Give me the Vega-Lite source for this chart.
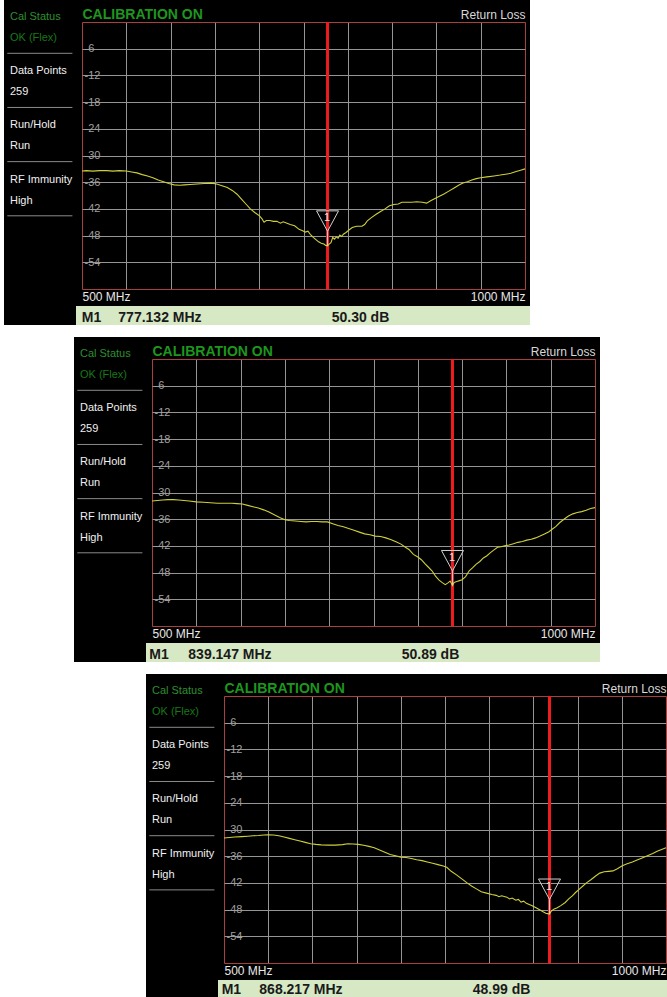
{
  "$schema": "https://vega.github.io/schema/vega-lite/v6.json",
  "background": "white",
  "padding": 0,
  "spacing": 12,
  "config": {"view": {"stroke": null}, "font": "Liberation Sans", "axis": {"labelFont": "Liberation Sans"}},
  "datasets": {
    "sidebar": [
      {"slot": 0, "label": "Cal Status", "value": "OK (Flex)"},
      {"slot": 1, "label": "Data Points", "value": "259"},
      {"slot": 2, "label": "Run/Hold", "value": "Run"},
      {"slot": 3, "label": "RF Immunity", "value": "High"}
    ],
    "marker1": [{"num": "1", "marker": "M1", "freq": 777.132, "db": -50.30, "freqLabel": "777.132 MHz", "valueLabel": "50.30 dB"}],
    "marker2": [{"num": "1", "marker": "M1", "freq": 839.147, "db": -50.89, "freqLabel": "839.147 MHz", "valueLabel": "50.89 dB"}],
    "marker3": [{"num": "1", "marker": "M1", "freq": 868.217, "db": -48.99, "freqLabel": "868.217 MHz", "valueLabel": "48.99 dB"}],
    "trace1": [
      {"freq":500,"db":-33.5},{"freq":505,"db":-33.4},{"freq":512,"db":-33.5},{"freq":520,"db":-33.4},{"freq":528,"db":-33.4},{"freq":535,"db":-33.5},{"freq":542,"db":-33.4},{"freq":550,"db":-33.5},{"freq":556,"db":-33.7},{"freq":562,"db":-33.9},{"freq":568,"db":-34.3},{"freq":574,"db":-34.6},{"freq":580,"db":-35.0},{"freq":586,"db":-35.5},{"freq":592,"db":-35.9},{"freq":598,"db":-36.3},{"freq":604,"db":-36.6},{"freq":610,"db":-36.7},{"freq":616,"db":-36.6},{"freq":622,"db":-36.5},{"freq":630,"db":-36.4},{"freq":638,"db":-36.3},{"freq":646,"db":-36.2},{"freq":652,"db":-36.4},{"freq":658,"db":-36.8},{"freq":664,"db":-37.2},{"freq":670,"db":-37.9},{"freq":675,"db":-38.7},{"freq":680,"db":-39.8},{"freq":685,"db":-40.9},{"freq":690,"db":-42.0},{"freq":695,"db":-42.8},{"freq":700,"db":-43.5},{"freq":703,"db":-44.2},{"freq":705.5,"db":-45.0},{"freq":708,"db":-44.6},{"freq":712,"db":-44.6},{"freq":716,"db":-44.8},{"freq":720,"db":-44.8},{"freq":724,"db":-45.2},{"freq":727,"db":-44.9},{"freq":730,"db":-45.1},{"freq":735,"db":-45.5},{"freq":740,"db":-45.8},{"freq":745,"db":-46.6},{"freq":749,"db":-46.9},{"freq":752,"db":-47.2},{"freq":755,"db":-47.0},{"freq":758,"db":-47.8},{"freq":761,"db":-48.4},{"freq":764,"db":-48.9},{"freq":767,"db":-49.4},{"freq":770,"db":-49.7},{"freq":773,"db":-49.9},{"freq":775,"db":-50.2},{"freq":777.1,"db":-50.3},{"freq":779,"db":-49.9},{"freq":781,"db":-49.6},{"freq":783,"db":-48.4},{"freq":785,"db":-48.8},{"freq":787,"db":-48.3},{"freq":789,"db":-48.6},{"freq":791,"db":-47.9},{"freq":793,"db":-48.2},{"freq":795,"db":-47.7},{"freq":798,"db":-47.3},{"freq":801,"db":-46.8},{"freq":805,"db":-46.2},{"freq":810,"db":-45.9},{"freq":816,"db":-45.9},{"freq":819,"db":-45.5},{"freq":822,"db":-44.7},{"freq":827,"db":-43.9},{"freq":832,"db":-43.2},{"freq":837,"db":-42.6},{"freq":842,"db":-42.0},{"freq":847,"db":-41.3},{"freq":852,"db":-41.0},{"freq":857,"db":-40.9},{"freq":861,"db":-40.5},{"freq":866,"db":-40.5},{"freq":872,"db":-40.5},{"freq":878,"db":-40.4},{"freq":884,"db":-40.5},{"freq":889,"db":-40.7},{"freq":894,"db":-40.1},{"freq":899,"db":-39.6},{"freq":904,"db":-39.1},{"freq":909,"db":-38.6},{"freq":914,"db":-38.0},{"freq":920,"db":-37.3},{"freq":925,"db":-36.7},{"freq":930,"db":-36.2},{"freq":935,"db":-35.9},{"freq":940,"db":-35.5},{"freq":945,"db":-35.2},{"freq":950,"db":-35.0},{"freq":957,"db":-34.8},{"freq":965,"db":-34.6},{"freq":972,"db":-34.4},{"freq":978,"db":-34.2},{"freq":984,"db":-34.0},{"freq":990,"db":-33.6},{"freq":995,"db":-33.3},{"freq":1000,"db":-33.0}
    ],
    "trace2": [
      {"freq":500,"db":-31.9},{"freq":506,"db":-31.8},{"freq":512,"db":-31.7},{"freq":518,"db":-31.6},{"freq":524,"db":-31.6},{"freq":530,"db":-31.7},{"freq":536,"db":-31.8},{"freq":542,"db":-31.9},{"freq":550,"db":-32.1},{"freq":558,"db":-32.2},{"freq":566,"db":-32.3},{"freq":574,"db":-32.4},{"freq":582,"db":-32.4},{"freq":590,"db":-32.4},{"freq":596,"db":-32.5},{"freq":602,"db":-32.6},{"freq":608,"db":-32.9},{"freq":614,"db":-33.2},{"freq":620,"db":-33.5},{"freq":626,"db":-33.9},{"freq":632,"db":-34.4},{"freq":638,"db":-35.0},{"freq":644,"db":-35.6},{"freq":650,"db":-36.1},{"freq":655,"db":-36.3},{"freq":662,"db":-36.4},{"freq":668,"db":-36.5},{"freq":674,"db":-36.6},{"freq":680,"db":-36.5},{"freq":686,"db":-36.5},{"freq":692,"db":-36.6},{"freq":698,"db":-36.6},{"freq":704,"db":-37.0},{"freq":710,"db":-37.4},{"freq":716,"db":-37.7},{"freq":722,"db":-38.1},{"freq":728,"db":-38.5},{"freq":734,"db":-38.9},{"freq":740,"db":-39.3},{"freq":746,"db":-39.5},{"freq":752,"db":-39.8},{"freq":758,"db":-39.9},{"freq":764,"db":-40.2},{"freq":770,"db":-40.6},{"freq":776,"db":-41.1},{"freq":781,"db":-41.6},{"freq":786,"db":-42.3},{"freq":790,"db":-42.8},{"freq":795,"db":-43.9},{"freq":800,"db":-44.5},{"freq":804,"db":-45.1},{"freq":808,"db":-46.0},{"freq":812,"db":-46.8},{"freq":816,"db":-47.6},{"freq":820,"db":-48.8},{"freq":824,"db":-49.7},{"freq":828,"db":-50.3},{"freq":831,"db":-50.7},{"freq":834,"db":-50.3},{"freq":836.5,"db":-49.9},{"freq":839.1,"db":-50.9},{"freq":841,"db":-50.2},{"freq":844,"db":-50.0},{"freq":847,"db":-49.8},{"freq":850,"db":-49.6},{"freq":854,"db":-48.9},{"freq":858,"db":-47.6},{"freq":862,"db":-46.9},{"freq":866,"db":-46.1},{"freq":870,"db":-45.5},{"freq":874,"db":-44.7},{"freq":878,"db":-44.2},{"freq":882,"db":-43.5},{"freq":886,"db":-42.9},{"freq":890,"db":-42.3},{"freq":894,"db":-42.2},{"freq":898,"db":-42.0},{"freq":903,"db":-41.8},{"freq":908,"db":-41.5},{"freq":913,"db":-41.2},{"freq":918,"db":-41.0},{"freq":923,"db":-40.7},{"freq":928,"db":-40.5},{"freq":933,"db":-40.2},{"freq":938,"db":-39.8},{"freq":943,"db":-39.3},{"freq":948,"db":-38.8},{"freq":952,"db":-38.2},{"freq":956,"db":-37.6},{"freq":960,"db":-36.8},{"freq":965,"db":-36.0},{"freq":970,"db":-35.3},{"freq":975,"db":-34.8},{"freq":980,"db":-34.5},{"freq":985,"db":-34.3},{"freq":990,"db":-34.0},{"freq":995,"db":-33.6},{"freq":1000,"db":-33.4}
    ],
    "trace3": [
      {"freq":500,"db":-31.9},{"freq":506,"db":-31.8},{"freq":512,"db":-31.7},{"freq":520,"db":-31.6},{"freq":527,"db":-31.5},{"freq":533,"db":-31.4},{"freq":539,"db":-31.35},{"freq":545,"db":-31.25},{"freq":550,"db":-31.2},{"freq":556,"db":-31.25},{"freq":562,"db":-31.4},{"freq":568,"db":-31.7},{"freq":574,"db":-32.0},{"freq":580,"db":-32.3},{"freq":586,"db":-32.6},{"freq":592,"db":-32.9},{"freq":598,"db":-33.2},{"freq":604,"db":-33.35},{"freq":610,"db":-33.45},{"freq":618,"db":-33.5},{"freq":626,"db":-33.5},{"freq":634,"db":-33.4},{"freq":640,"db":-33.2},{"freq":646,"db":-33.25},{"freq":652,"db":-33.35},{"freq":658,"db":-33.55},{"freq":664,"db":-33.8},{"freq":670,"db":-34.1},{"freq":676,"db":-34.6},{"freq":682,"db":-35.1},{"freq":688,"db":-35.6},{"freq":694,"db":-35.9},{"freq":700,"db":-36.2},{"freq":706,"db":-36.3},{"freq":712,"db":-36.5},{"freq":718,"db":-36.8},{"freq":724,"db":-37.0},{"freq":730,"db":-37.3},{"freq":736,"db":-37.6},{"freq":742,"db":-37.9},{"freq":748,"db":-38.2},{"freq":752,"db":-38.5},{"freq":757,"db":-39.4},{"freq":763,"db":-40.2},{"freq":769,"db":-41.1},{"freq":775,"db":-42.0},{"freq":780,"db":-42.7},{"freq":786,"db":-43.4},{"freq":791,"db":-44.0},{"freq":797,"db":-44.3},{"freq":803,"db":-44.6},{"freq":808,"db":-44.8},{"freq":811,"db":-45.1},{"freq":814,"db":-44.9},{"freq":820,"db":-45.2},{"freq":823,"db":-45.6},{"freq":826,"db":-45.4},{"freq":830,"db":-45.9},{"freq":833,"db":-45.7},{"freq":836,"db":-46.3},{"freq":839,"db":-46.1},{"freq":842,"db":-46.6},{"freq":848,"db":-47.1},{"freq":853,"db":-47.6},{"freq":857.5,"db":-48.1},{"freq":861,"db":-48.5},{"freq":864,"db":-48.8},{"freq":866,"db":-48.9},{"freq":868.2,"db":-49.0},{"freq":870,"db":-48.4},{"freq":873,"db":-47.9},{"freq":877,"db":-47.6},{"freq":881,"db":-47.1},{"freq":886,"db":-46.4},{"freq":890,"db":-45.6},{"freq":894,"db":-44.9},{"freq":898,"db":-44.1},{"freq":902,"db":-43.4},{"freq":906,"db":-42.7},{"freq":910,"db":-42.0},{"freq":915,"db":-41.3},{"freq":920,"db":-40.5},{"freq":925,"db":-39.8},{"freq":930,"db":-39.5},{"freq":935,"db":-39.4},{"freq":940,"db":-39.3},{"freq":945,"db":-38.8},{"freq":950,"db":-38.2},{"freq":956,"db":-37.7},{"freq":962,"db":-37.3},{"freq":968,"db":-36.8},{"freq":973,"db":-36.4},{"freq":979,"db":-35.9},{"freq":985,"db":-35.4},{"freq":990,"db":-34.9},{"freq":995,"db":-34.5},{"freq":1000,"db":-34.1}
    ]
  },
  "vconcat": [
    {
      "spacing": 0,
      "hconcat": [
        {"width": 4, "height": 325, "data": {"values": []}, "mark": "point"},
        {
          "width": 72, "height": 325, "view": {"fill": "black"}, "data": {"name": "sidebar"},
          "layer": [
            {"mark": {"type": "rule", "color": "#8a8a8a", "strokeWidth": 1, "yOffset": 53.3},
             "encoding": {"x": {"datum": 0.046, "type": "quantitative", "scale": {"domain": [0, 1]}, "axis": null}, "x2": {"datum": 0.95},
                          "y": {"field": "slot", "type": "quantitative", "scale": {"domain": [0, 6], "reverse": true, "nice": false, "zero": false}, "axis": null}}},
            {"mark": {"type": "text", "align": "left", "baseline": "middle", "fontSize": 11, "dy": 17},
             "encoding": {"x": {"datum": 0.083, "type": "quantitative", "axis": null}, "y": {"field": "slot", "type": "quantitative", "axis": null},
                          "text": {"field": "label"}, "color": {"condition": {"test": "datum.slot == 0", "value": "#2e8f2e"}, "value": "#f0f0f0"}}},
            {"mark": {"type": "text", "align": "left", "baseline": "middle", "fontSize": 11, "dy": 38},
             "encoding": {"x": {"datum": 0.083, "type": "quantitative", "axis": null}, "y": {"field": "slot", "type": "quantitative", "axis": null},
                          "text": {"field": "value"}, "color": {"condition": {"test": "datum.slot == 0", "value": "#187818"}, "value": "#f0f0f0"}}}
          ]
        },
        {
          "spacing": 0,
          "vconcat": [
            {
              "width": 454, "height": 306, "view": {"fill": "black"},
              "resolve": {"axis": {"x": "independent", "y": "independent"}},
              "layer": [
                {"data": {"name": "marker1"}, "mark": {"type": "rule", "color": "#ee1c1c", "strokeWidth": 3},
                 "encoding": {
                   "x": {"field": "freq", "type": "quantitative", "axis": {"orient": "bottom", "values": [500, 1000], "grid": false, "ticks": false, "domain": false, "title": null, "labelExpr": "datum.value == 500 ? '500 MHz' : '1000 MHz'", "labelFlush": true, "labelOverlap": false, "labelPadding": -6, "labelBaseline": "alphabetic", "labelColor": "#e8e8e8", "labelFontSize": 12}},
                   "y": {"datum": 0, "type": "quantitative", "axis": null},
                   "y2": {"datum": -60}}},
                {"data": {"name": "trace1"}, "mark": {"type": "line", "color": "#cfcf3a", "strokeWidth": 1.1},
                 "encoding": {
                   "x": {"field": "freq", "type": "quantitative", "scale": {"domain": [500, 1000], "range": [6, 449], "nice": false, "zero": false},
                         "axis": {"orient": "top", "values": [500,550,600,650,700,750,800,850,900,950,1000], "grid": true, "gridColor": {"condition": {"test": "datum.value == 500 || datum.value == 1000", "value": "#a84040"}, "value": "#959595"}, "ticks": false, "domain": false, "title": null, "labelExpr": "datum.value == 500 ? 'CALIBRATION ON' : datum.value == 1000 ? 'Return Loss' : ''", "labelFlush": true, "labelOverlap": false, "labelPadding": -18.5, "labelBaseline": "alphabetic", "labelColor": {"condition": {"test": "datum.value == 500", "value": "#1e961e"}, "value": "#d8d8d8"}, "labelFontSize": {"condition": {"test": "datum.value == 500", "value": 14}, "value": 12}, "labelFontWeight": {"condition": {"test": "datum.value == 500", "value": "bold"}, "value": "normal"}}},
                   "y": {"field": "db", "type": "quantitative", "scale": {"domain": [-60, 0], "range": [289, 22], "nice": false, "zero": false},
                         "axis": {"orient": "left", "values": [-60,-54,-48,-42,-36,-30,-24,-18,-12,-6,0], "grid": true, "gridColor": {"condition": {"test": "datum.value == 0 || datum.value == -60", "value": "#a84040"}, "value": "#959595"}, "ticks": false, "domain": false, "title": null, "labelExpr": "datum.value == 0 || datum.value == -60 ? '' : '-' + abs(datum.value)", "labelAlign": "left", "labelBaseline": "middle", "labelPadding": -8, "labelColor": "#a0a0a0", "labelFontSize": 11, "labelOverlap": false}}}},
                {"data": {"name": "marker1"}, "mark": {"type": "point", "shape": "M-1,-3.18L1,-3.18L0,-1.32ZM0,-1.32L0,0", "size": 484, "filled": false, "color": "#d0d0d0", "strokeWidth": 1, "opacity": 1},
                 "encoding": {"x": {"field": "freq", "type": "quantitative", "axis": null}, "y": {"field": "db", "type": "quantitative", "axis": null}}},
                {"data": {"name": "marker1"}, "mark": {"type": "text", "fontSize": 11, "color": "#e8eef5", "baseline": "middle", "dy": -27.5, "dx": -0.5},
                 "encoding": {"x": {"field": "freq", "type": "quantitative", "axis": null}, "y": {"field": "db", "type": "quantitative", "axis": null}, "text": {"field": "num"}}}
              ]
            },
            {
              "width": 454, "height": 19, "view": {"fill": "#d6e8c4"}, "data": {"name": "marker1"},
              "layer": [
                {"mark": {"type": "text", "align": "left", "baseline": "middle", "fontSize": 14, "fontWeight": "bold", "color": "#1a1a1a", "dy": 2},
                 "encoding": {"x": {"datum": 0.0126, "type": "quantitative", "scale": {"domain": [0, 1]}, "axis": null}, "text": {"field": "marker"}}},
                {"mark": {"type": "text", "align": "left", "baseline": "middle", "fontSize": 14, "fontWeight": "bold", "color": "#1a1a1a", "dy": 2},
                 "encoding": {"x": {"datum": 0.0932, "type": "quantitative", "axis": null}, "text": {"field": "freqLabel"}}},
                {"mark": {"type": "text", "align": "left", "baseline": "middle", "fontSize": 14, "fontWeight": "bold", "color": "#1a1a1a", "dy": 2},
                 "encoding": {"x": {"datum": 0.5632, "type": "quantitative", "axis": null}, "text": {"field": "valueLabel"}}}
              ]
            }
          ]
        }
      ]
    },
    {
      "spacing": 0,
      "hconcat": [
        {"width": 74, "height": 325, "data": {"values": []}, "mark": "point"},
        {
          "width": 72, "height": 325, "view": {"fill": "black"}, "data": {"name": "sidebar"},
          "layer": [
            {"mark": {"type": "rule", "color": "#8a8a8a", "strokeWidth": 1, "yOffset": 53.3},
             "encoding": {"x": {"datum": 0.046, "type": "quantitative", "scale": {"domain": [0, 1]}, "axis": null}, "x2": {"datum": 0.95},
                          "y": {"field": "slot", "type": "quantitative", "scale": {"domain": [0, 6], "reverse": true, "nice": false, "zero": false}, "axis": null}}},
            {"mark": {"type": "text", "align": "left", "baseline": "middle", "fontSize": 11, "dy": 17},
             "encoding": {"x": {"datum": 0.083, "type": "quantitative", "axis": null}, "y": {"field": "slot", "type": "quantitative", "axis": null},
                          "text": {"field": "label"}, "color": {"condition": {"test": "datum.slot == 0", "value": "#2e8f2e"}, "value": "#f0f0f0"}}},
            {"mark": {"type": "text", "align": "left", "baseline": "middle", "fontSize": 11, "dy": 38},
             "encoding": {"x": {"datum": 0.083, "type": "quantitative", "axis": null}, "y": {"field": "slot", "type": "quantitative", "axis": null},
                          "text": {"field": "value"}, "color": {"condition": {"test": "datum.slot == 0", "value": "#187818"}, "value": "#f0f0f0"}}}
          ]
        },
        {
          "spacing": 0,
          "vconcat": [
            {
              "width": 454, "height": 306, "view": {"fill": "black"},
              "resolve": {"axis": {"x": "independent", "y": "independent"}},
              "layer": [
                {"data": {"name": "marker2"}, "mark": {"type": "rule", "color": "#ee1c1c", "strokeWidth": 3},
                 "encoding": {
                   "x": {"field": "freq", "type": "quantitative", "axis": {"orient": "bottom", "values": [500, 1000], "grid": false, "ticks": false, "domain": false, "title": null, "labelExpr": "datum.value == 500 ? '500 MHz' : '1000 MHz'", "labelFlush": true, "labelOverlap": false, "labelPadding": -6, "labelBaseline": "alphabetic", "labelColor": "#e8e8e8", "labelFontSize": 12}},
                   "y": {"datum": 0, "type": "quantitative", "axis": null},
                   "y2": {"datum": -60}}},
                {"data": {"name": "trace2"}, "mark": {"type": "line", "color": "#cfcf3a", "strokeWidth": 1.1},
                 "encoding": {
                   "x": {"field": "freq", "type": "quantitative", "scale": {"domain": [500, 1000], "range": [6, 449], "nice": false, "zero": false},
                         "axis": {"orient": "top", "values": [500,550,600,650,700,750,800,850,900,950,1000], "grid": true, "gridColor": {"condition": {"test": "datum.value == 500 || datum.value == 1000", "value": "#a84040"}, "value": "#959595"}, "ticks": false, "domain": false, "title": null, "labelExpr": "datum.value == 500 ? 'CALIBRATION ON' : datum.value == 1000 ? 'Return Loss' : ''", "labelFlush": true, "labelOverlap": false, "labelPadding": -18.5, "labelBaseline": "alphabetic", "labelColor": {"condition": {"test": "datum.value == 500", "value": "#1e961e"}, "value": "#d8d8d8"}, "labelFontSize": {"condition": {"test": "datum.value == 500", "value": 14}, "value": 12}, "labelFontWeight": {"condition": {"test": "datum.value == 500", "value": "bold"}, "value": "normal"}}},
                   "y": {"field": "db", "type": "quantitative", "scale": {"domain": [-60, 0], "range": [289, 22], "nice": false, "zero": false},
                         "axis": {"orient": "left", "values": [-60,-54,-48,-42,-36,-30,-24,-18,-12,-6,0], "grid": true, "gridColor": {"condition": {"test": "datum.value == 0 || datum.value == -60", "value": "#a84040"}, "value": "#959595"}, "ticks": false, "domain": false, "title": null, "labelExpr": "datum.value == 0 || datum.value == -60 ? '' : '-' + abs(datum.value)", "labelAlign": "left", "labelBaseline": "middle", "labelPadding": -8, "labelColor": "#a0a0a0", "labelFontSize": 11, "labelOverlap": false}}}},
                {"data": {"name": "marker2"}, "mark": {"type": "point", "shape": "M-1,-3.18L1,-3.18L0,-1.32ZM0,-1.32L0,0", "size": 484, "filled": false, "color": "#d0d0d0", "strokeWidth": 1, "opacity": 1},
                 "encoding": {"x": {"field": "freq", "type": "quantitative", "axis": null}, "y": {"field": "db", "type": "quantitative", "axis": null}}},
                {"data": {"name": "marker2"}, "mark": {"type": "text", "fontSize": 11, "color": "#e8eef5", "baseline": "middle", "dy": -27.5, "dx": -0.5},
                 "encoding": {"x": {"field": "freq", "type": "quantitative", "axis": null}, "y": {"field": "db", "type": "quantitative", "axis": null}, "text": {"field": "num"}}}
              ]
            },
            {
              "width": 454, "height": 19, "view": {"fill": "#d6e8c4"}, "data": {"name": "marker2"},
              "layer": [
                {"mark": {"type": "text", "align": "left", "baseline": "middle", "fontSize": 14, "fontWeight": "bold", "color": "#1a1a1a", "dy": 2},
                 "encoding": {"x": {"datum": 0.0073, "type": "quantitative", "scale": {"domain": [0, 1]}, "axis": null}, "text": {"field": "marker"}}},
                {"mark": {"type": "text", "align": "left", "baseline": "middle", "fontSize": 14, "fontWeight": "bold", "color": "#1a1a1a", "dy": 2},
                 "encoding": {"x": {"datum": 0.0932, "type": "quantitative", "axis": null}, "text": {"field": "freqLabel"}}},
                {"mark": {"type": "text", "align": "left", "baseline": "middle", "fontSize": 14, "fontWeight": "bold", "color": "#1a1a1a", "dy": 2},
                 "encoding": {"x": {"datum": 0.5632, "type": "quantitative", "axis": null}, "text": {"field": "valueLabel"}}}
              ]
            }
          ]
        }
      ]
    },
    {
      "spacing": 0,
      "hconcat": [
        {"width": 146, "height": 323, "data": {"values": []}, "mark": "point"},
        {
          "width": 72, "height": 323, "view": {"fill": "black"}, "data": {"name": "sidebar"},
          "layer": [
            {"mark": {"type": "rule", "color": "#8a8a8a", "strokeWidth": 1, "yOffset": 53.3},
             "encoding": {"x": {"datum": 0.046, "type": "quantitative", "scale": {"domain": [0, 1]}, "axis": null}, "x2": {"datum": 0.95},
                          "y": {"field": "slot", "type": "quantitative", "scale": {"domain": [0, 5.96], "reverse": true, "nice": false, "zero": false}, "axis": null}}},
            {"mark": {"type": "text", "align": "left", "baseline": "middle", "fontSize": 11, "dy": 17},
             "encoding": {"x": {"datum": 0.083, "type": "quantitative", "axis": null}, "y": {"field": "slot", "type": "quantitative", "axis": null},
                          "text": {"field": "label"}, "color": {"condition": {"test": "datum.slot == 0", "value": "#2e8f2e"}, "value": "#f0f0f0"}}},
            {"mark": {"type": "text", "align": "left", "baseline": "middle", "fontSize": 11, "dy": 38},
             "encoding": {"x": {"datum": 0.083, "type": "quantitative", "axis": null}, "y": {"field": "slot", "type": "quantitative", "axis": null},
                          "text": {"field": "value"}, "color": {"condition": {"test": "datum.slot == 0", "value": "#187818"}, "value": "#f0f0f0"}}}
          ]
        },
        {
          "spacing": 0,
          "vconcat": [
            {
              "width": 449, "height": 306, "view": {"fill": "black"},
              "resolve": {"axis": {"x": "independent", "y": "independent"}},
              "layer": [
                {"data": {"name": "marker3"}, "mark": {"type": "rule", "color": "#ee1c1c", "strokeWidth": 3},
                 "encoding": {
                   "x": {"field": "freq", "type": "quantitative", "axis": {"orient": "bottom", "values": [500, 1000], "grid": false, "ticks": false, "domain": false, "title": null, "labelExpr": "datum.value == 500 ? '500 MHz' : '1000 MHz'", "labelFlush": true, "labelOverlap": false, "labelPadding": -6, "labelBaseline": "alphabetic", "labelColor": "#e8e8e8", "labelFontSize": 12}},
                   "y": {"datum": 0, "type": "quantitative", "axis": null},
                   "y2": {"datum": -60}}},
                {"data": {"name": "trace3"}, "mark": {"type": "line", "color": "#cfcf3a", "strokeWidth": 1.1},
                 "encoding": {
                   "x": {"field": "freq", "type": "quantitative", "scale": {"domain": [500, 1000], "range": [6, 448], "nice": false, "zero": false},
                         "axis": {"orient": "top", "values": [500,550,600,650,700,750,800,850,900,950,1000], "grid": true, "gridColor": {"condition": {"test": "datum.value == 500 || datum.value == 1000", "value": "#a84040"}, "value": "#959595"}, "ticks": false, "domain": false, "title": null, "labelExpr": "datum.value == 500 ? 'CALIBRATION ON' : datum.value == 1000 ? 'Return Loss' : ''", "labelFlush": true, "labelOverlap": false, "labelPadding": -18.5, "labelBaseline": "alphabetic", "labelColor": {"condition": {"test": "datum.value == 500", "value": "#1e961e"}, "value": "#d8d8d8"}, "labelFontSize": {"condition": {"test": "datum.value == 500", "value": 14}, "value": 12}, "labelFontWeight": {"condition": {"test": "datum.value == 500", "value": "bold"}, "value": "normal"}}},
                   "y": {"field": "db", "type": "quantitative", "scale": {"domain": [-60, 0], "range": [289, 22], "nice": false, "zero": false},
                         "axis": {"orient": "left", "values": [-60,-54,-48,-42,-36,-30,-24,-18,-12,-6,0], "grid": true, "gridColor": {"condition": {"test": "datum.value == 0 || datum.value == -60", "value": "#a84040"}, "value": "#959595"}, "ticks": false, "domain": false, "title": null, "labelExpr": "datum.value == 0 || datum.value == -60 ? '' : '-' + abs(datum.value)", "labelAlign": "left", "labelBaseline": "middle", "labelPadding": -8, "labelColor": "#a0a0a0", "labelFontSize": 11, "labelOverlap": false}}}},
                {"data": {"name": "marker3"}, "mark": {"type": "point", "shape": "M-1,-3.18L1,-3.18L0,-1.32ZM0,-1.32L0,0", "size": 484, "filled": false, "color": "#d0d0d0", "strokeWidth": 1, "opacity": 1},
                 "encoding": {"x": {"field": "freq", "type": "quantitative", "axis": null}, "y": {"field": "db", "type": "quantitative", "axis": null}}},
                {"data": {"name": "marker3"}, "mark": {"type": "text", "fontSize": 11, "color": "#e8eef5", "baseline": "middle", "dy": -27.5, "dx": -0.5},
                 "encoding": {"x": {"field": "freq", "type": "quantitative", "axis": null}, "y": {"field": "db", "type": "quantitative", "axis": null}, "text": {"field": "num"}}}
              ]
            },
            {
              "width": 449, "height": 17, "view": {"fill": "#d6e8c4"}, "data": {"name": "marker3"},
              "layer": [
                {"mark": {"type": "text", "align": "left", "baseline": "middle", "fontSize": 14, "fontWeight": "bold", "color": "#1a1a1a", "dy": 1.5},
                 "encoding": {"x": {"datum": 0.0082, "type": "quantitative", "scale": {"domain": [0, 1]}, "axis": null}, "text": {"field": "marker"}}},
                {"mark": {"type": "text", "align": "left", "baseline": "middle", "fontSize": 14, "fontWeight": "bold", "color": "#1a1a1a", "dy": 1.5},
                 "encoding": {"x": {"datum": 0.092, "type": "quantitative", "axis": null}, "text": {"field": "freqLabel"}}},
                {"mark": {"type": "text", "align": "left", "baseline": "middle", "fontSize": 14, "fontWeight": "bold", "color": "#1a1a1a", "dy": 1.5},
                 "encoding": {"x": {"datum": 0.5673, "type": "quantitative", "axis": null}, "text": {"field": "valueLabel"}}}
              ]
            }
          ]
        }
      ]
    }
  ]
}
